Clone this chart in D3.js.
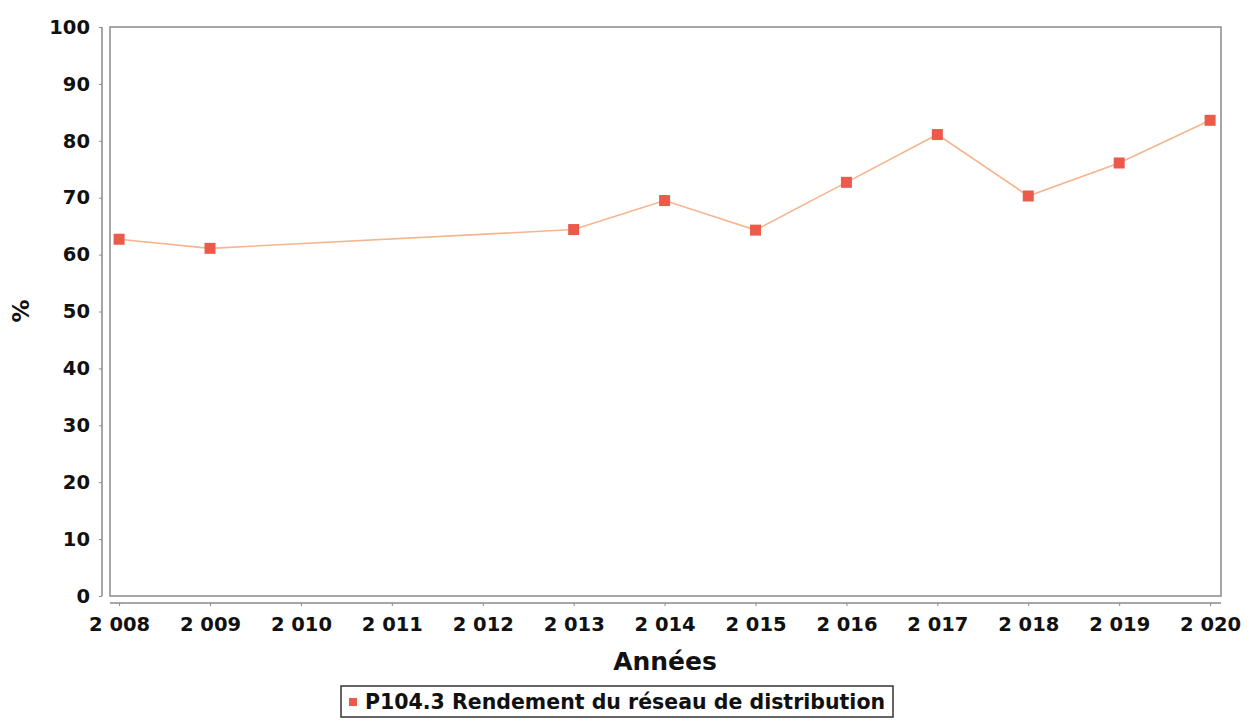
<!DOCTYPE html>
<html>
<head>
<meta charset="utf-8">
<title>Rendement du réseau de distribution</title>
<style>
  body { margin: 0; background: #fff; }
  svg { display: block; }
  text { font-family: "DejaVu Sans", sans-serif; font-weight: bold; fill: #111; }
  .tick text { font-size: 19.5px; }
  .border { fill: #fff; stroke: #8a8a8a; stroke-width: 1.5px; }
  .series { fill: none; stroke: #f5b58f; stroke-width: 1.6px; }
  .marker { fill: #ec5a4c; }
</style>
</head>
<body>
<svg width="1253" height="724"></svg>
<script src="https://d3js.org/d3.v7.min.js"></script>
<script>
const years = [2008, 2009, 2013, 2014, 2015, 2016, 2017, 2018, 2019, 2020];
const rendement = [62.7, 61.1, 64.4, 69.5, 64.3, 72.7, 81.1, 70.3, 76.1, 83.6];
const xTicks = [2008, 2009, 2010, 2011, 2012, 2013, 2014, 2015, 2016, 2017, 2018, 2019, 2020];
const yTicks = [0, 10, 20, 30, 40, 50, 60, 70, 80, 90, 100];
const seriesName = "P104.3 Rendement du réseau de distribution";

const svg = d3.select("svg");
const plot = { left: 110, right: 1221, top: 27, bottom: 596 };

const x = d3.scaleLinear().domain([2007.9, 2020.12]).range([plot.left, plot.right]);
const y = d3.scaleLinear().domain([0, 100]).range([plot.bottom, plot.top]);

// plot frame
svg.append("rect").attr("class", "border")
    .attr("x", plot.left).attr("y", plot.top)
    .attr("width", plot.right - plot.left).attr("height", plot.bottom - plot.top);

// axes sit a few px away from the plot, JFreeChart style
const fmtYear = d => d3.format(",")(d).replace(",", " ");

const xAxis = svg.append("g")
    .attr("transform", `translate(0,${plot.bottom + 7})`)
    .call(d3.axisBottom(x).tickValues(xTicks).tickFormat(fmtYear).tickSize(3).tickPadding(5));
xAxis.select(".domain").attr("stroke", "#8a8a8a").attr("stroke-width", 1.5)
    .attr("d", `M${plot.left},0H${plot.right}`);
xAxis.selectAll(".tick line").attr("stroke", "#8a8a8a");
xAxis.selectAll(".tick text").attr("dy", "1em");

const yAxis = svg.append("g")
    .attr("transform", `translate(${plot.left - 8},0)`)
    .call(d3.axisLeft(y).tickValues(yTicks).tickSize(3).tickPadding(9));
yAxis.select(".domain").attr("stroke", "#8a8a8a").attr("stroke-width", 1.5)
    .attr("d", `M0,${plot.top}V${plot.bottom}`);
yAxis.selectAll(".tick line").attr("stroke", "#8a8a8a");

// axis titles
svg.append("text")
    .attr("x", 665).attr("y", 670)
    .attr("text-anchor", "middle")
    .style("font-size", "25px")
    .text("Années");

svg.append("text")
    .attr("transform", "translate(29,311) rotate(-90)")
    .attr("text-anchor", "middle")
    .style("font-size", "23px")
    .text("%");

// series
const pts = years.map((yr, i) => [yr, rendement[i]]);
svg.append("path").attr("class", "series")
    .attr("d", d3.line().x(d => x(d[0])).y(d => y(d[1]))(pts));

svg.selectAll(".marker").data(pts).enter().append("rect")
    .attr("class", "marker")
    .attr("x", d => x(d[0]) - 5.5)
    .attr("y", d => y(d[1]) - 5.5)
    .attr("width", 11).attr("height", 11);

// legend
const legend = svg.append("g").attr("transform", "translate(341,686)");
legend.append("rect")
    .attr("width", 552).attr("height", 31)
    .attr("fill", "#fff").attr("stroke", "#333").attr("stroke-width", 1.5);
legend.append("rect").attr("class", "marker")
    .attr("x", 8).attr("y", 12).attr("width", 8).attr("height", 8);
legend.append("text")
    .attr("x", 24).attr("y", 23)
    .style("font-size", "20.5px")
    .text(seriesName);
</script>
</body>
</html>
